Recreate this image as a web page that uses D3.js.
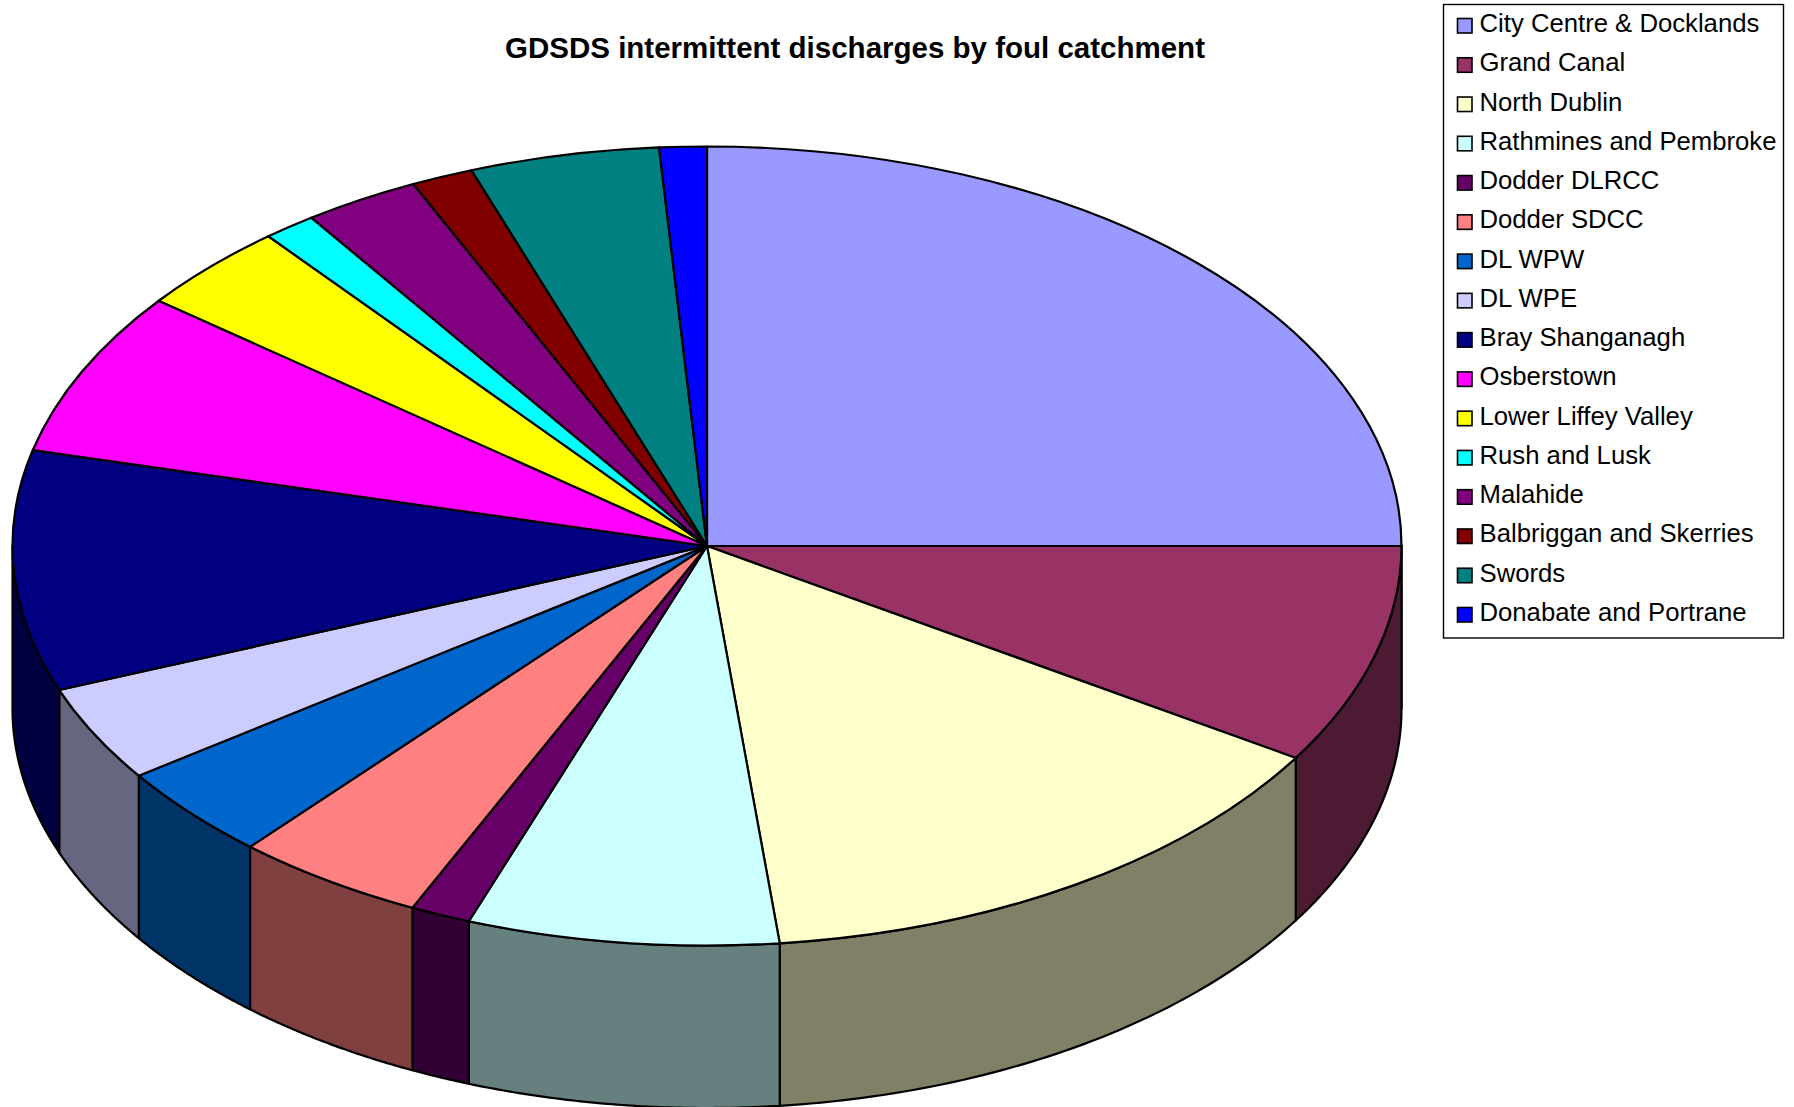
<!DOCTYPE html>
<html>
<head>
<meta charset="utf-8">
<title>GDSDS intermittent discharges by foul catchment</title>
<script src="https://cdn.jsdelivr.net/npm/d3@7"></script>
<style>
  html, body { margin: 0; padding: 0; background: #fff; }
  svg { display: block; font-family: "Liberation Sans", Arial, sans-serif; }
</style>
</head>
<body>
<svg id="chart" width="1794" height="1107"></svg>
<script>
// Share of intermittent discharges per foul catchment (%), clockwise from 12 o'clock
const catchments = [
  "City Centre & Docklands", "Grand Canal", "North Dublin", "Rathmines and Pembroke",
  "Dodder DLRCC", "Dodder SDCC", "DL WPW", "DL WPE", "Bray Shanganagh", "Osberstown",
  "Lower Liffey Valley", "Rush and Lusk", "Malahide", "Balbriggan and Skerries",
  "Swords", "Donabate and Portrane"
];
const shares = [25.0, 8.9, 14.43, 7.24, 1.4, 4.46, 3.82, 3.88, 9.73, 6.66, 3.6, 1.23, 2.7, 1.44, 4.41, 1.1];
const palette = [
  "#9999FF", "#993366", "#FFFFCC", "#CCFFFF", "#660066", "#FF8080", "#0066CC", "#CCCCFF",
  "#000080", "#FF00FF", "#FFFF00", "#00FFFF", "#800080", "#800000", "#008080", "#0000FF"
];
const chartTitle = "GDSDS intermittent discharges by foul catchment";

const svg = d3.select("#chart");
const cx = 707, cy = 546, rx = 694.5, ry = 399.5, depth = 162.5;

const pie = d3.pie().sort(null).value(d => d)(shares);
const arc = d3.arc().innerRadius(0).outerRadius(rx);
const rim = (t, dy = 0) => [cx + rx * Math.sin(t), cy - ry * Math.cos(t) + dy];

// Side wall of a slice: only the front half of the rim (3 to 9 o'clock) is visible
const wallPath = d3.line();
function wall(p) {
  const a = Math.max(p.startAngle, Math.PI / 2);
  const b = Math.min(p.endAngle, 3 * Math.PI / 2);
  if (b <= a) return null;
  const step = d3.scaleLinear().domain([0, 60]).range([a, b]);
  const ticks = d3.range(61).map(step);
  const upper = ticks.map(t => rim(t));
  const lower = ticks.slice().reverse().map(t => rim(t, depth));
  return wallPath(upper.concat(lower)) + "Z";
}

const shade = c => { const k = d3.rgb(c); return d3.rgb(k.r / 2, k.g / 2, k.b / 2).formatHex(); };

svg.append("g").selectAll("path")
  .data(pie.filter(wall))
  .join("path")
  .attr("d", wall)
  .attr("fill", d => shade(palette[d.index]))
  .attr("stroke", "#000")
  .attr("stroke-width", 2.2)
  .attr("stroke-linejoin", "round");

// Top face: a circular pie squashed into an ellipse
svg.append("g")
  .attr("transform", `translate(${cx},${cy}) scale(1,${ry / rx})`)
  .selectAll("path")
  .data(pie)
  .join("path")
  .attr("d", arc)
  .attr("fill", d => palette[d.index])
  .attr("stroke", "#000")
  .attr("stroke-width", 2.2)
  .attr("stroke-linejoin", "round")
  .attr("vector-effect", "non-scaling-stroke");

svg.append("text")
  .attr("x", 855).attr("y", 57.5)
  .attr("text-anchor", "middle")
  .attr("font-size", 29.5)
  .attr("font-weight", "bold")
  .attr("fill", "#000")
  .text(chartTitle);

// Legend
const legend = svg.append("g");
legend.append("rect")
  .attr("x", 1443.5).attr("y", 4.5).attr("width", 340).attr("height", 633.5)
  .attr("fill", "#fff").attr("stroke", "#000").attr("stroke-width", 1.4);

const rowY = d3.scaleLinear().domain([0, catchments.length - 1]).range([32, 621]);
const row = legend.selectAll("g.row")
  .data(catchments)
  .join("g").attr("class", "row")
  .attr("transform", (d, i) => `translate(0,${rowY(i)})`);
row.append("rect")
  .attr("x", 1457.5).attr("y", -13.5).attr("width", 14.5).attr("height", 14.5)
  .attr("fill", (d, i) => palette[i])
  .attr("stroke", "#000").attr("stroke-width", 1.6);
row.append("text")
  .attr("x", 1479.5).attr("y", 0)
  .attr("font-size", 25.7)
  .attr("fill", "#000")
  .text(d => d);
</script>
</body>
</html>
